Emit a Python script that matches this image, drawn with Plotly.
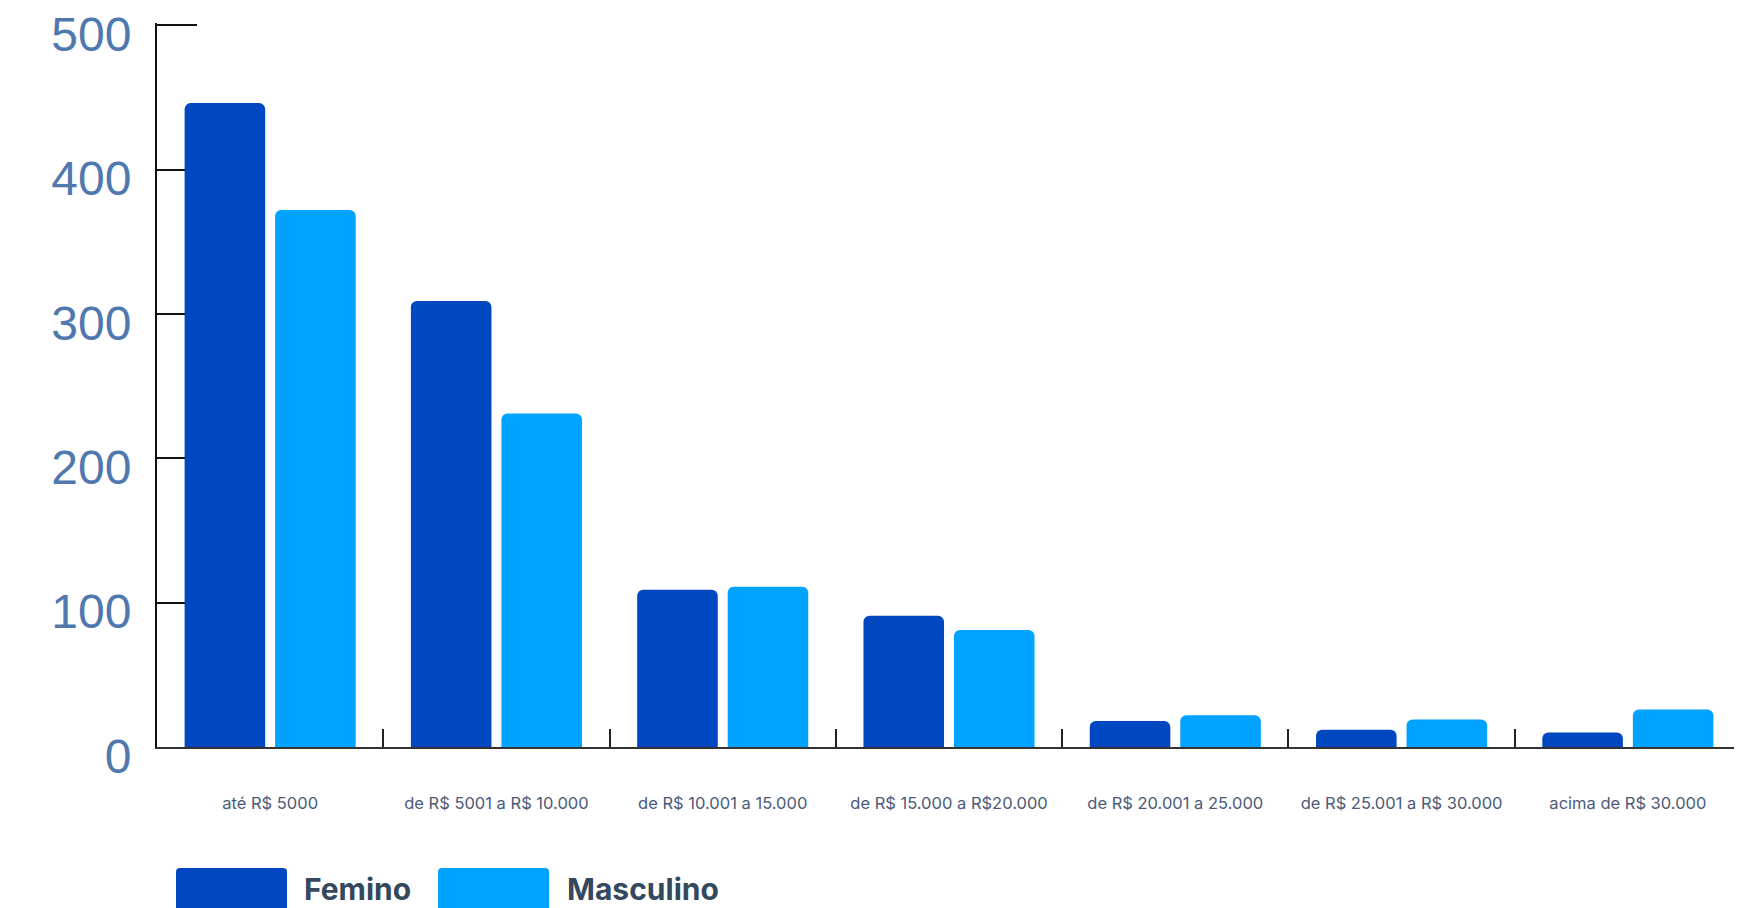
import plotly.graph_objects as go

categories = ["até R$ 5000", "de R$ 5001 a R$ 10.000", "de R$ 10.001 a 15.000",
              "de R$ 15.000 a R$20.000", "de R$ 20.001 a 25.000",
              "de R$ 25.001 a R$ 30.000", "acima de R$ 30.000"]
femino = [446, 309, 109, 91, 18, 12, 10]
masculino = [372, 231, 111, 81, 22, 19, 26]
y_ticks = [0, 100, 200, 300, 400, 500]

series = [("Femino", femino, "#0047c0"), ("Masculino", masculino, "#00a3ff")]

# page body has an 8px margin, so the figure is offset by 8px
OFF = 8
W, H = 1742, 908
ML, MR, MT, MB = 157 - OFF, 1 + OFF, 23 - OFF, 161 + OFF
PW = W - ML - MR
PH = H - MT - MB

fig = go.Figure()
for name, vals, color in series:
    fig.add_trace(go.Bar(
        x=categories, y=vals, name=name,
        marker=dict(color=color, line=dict(width=0), cornerradius=6),
        showlegend=False))


def px2paper_x(px):
    return (px - OFF - ML) / PW


def px2paper_y(py):
    return (H - MB - (py - OFF)) / PH


def rounded_rect(x0, y0, x1, y1, r):
    X = lambda v: px2paper_x(v)
    Y = lambda v: px2paper_y(v)
    return (f"M {X(x0 + r)} {Y(y0)} L {X(x1 - r)} {Y(y0)} Q {X(x1)} {Y(y0)} {X(x1)} {Y(y0 + r)} "
            f"L {X(x1)} {Y(y1 - r)} Q {X(x1)} {Y(y1)} {X(x1 - r)} {Y(y1)} "
            f"L {X(x0 + r)} {Y(y1)} Q {X(x0)} {Y(y1)} {X(x0)} {Y(y1 - r)} "
            f"L {X(x0)} {Y(y0 + r)} Q {X(x0)} {Y(y0)} {X(x0 + r)} {Y(y0)} Z")


legend_items = [(176, 287, 302), (438, 549, 565)]
shapes = []
annotations = []
for (sx0, sx1, tx), (name, vals, color) in zip(legend_items, series):
    shapes.append(dict(type="path", xref="paper", yref="paper",
                       path=rounded_rect(sx0, 868, sx1, 912, 4),
                       fillcolor=color, line=dict(width=0), layer="above"))
    annotations.append(dict(x=px2paper_x(tx), y=px2paper_y(889), xref="paper", yref="paper",
                            text=f"<b>{name}</b>", showarrow=False, xanchor="left", yanchor="middle",
                            font=dict(family="Inter", size=30, color="#34495e")))

fig.update_layout(
    width=W, height=H,
    margin=dict(l=ML, r=MR, t=MT, b=MB, pad=0),
    paper_bgcolor="white", plot_bgcolor="white",
    barmode="group", bargap=0.2, bargroupgap=0.11,
    showlegend=False,
    shapes=shapes, annotations=annotations,
    xaxis=dict(
        type="category", range=[-0.5, len(categories) - 0.5], automargin=False,
        showline=True, linecolor="#333333", linewidth=2,
        ticks="inside", tickson="boundaries", ticklen=18, tickwidth=2, tickcolor="#222222",
        showgrid=False, zeroline=False,
        tickfont=dict(family="Inter", size=16.5, color="#4a5a78"),
        ticklabelstandoff=40,
    ),
    yaxis=dict(
        range=[0, 501.5], tickvals=y_ticks, ticktext=[str(v) for v in y_ticks], automargin=False,
        showline=True, linecolor="#111111", linewidth=2,
        ticks="inside", ticklen=40, tickwidth=2, tickcolor="#111111",
        showgrid=False, zeroline=False, layer="below traces",
        tickfont=dict(family="Liberation Sans", size=48, color="#4f78ae"),
        ticklabelstandoff=14, ticklabelshift=9, ticklabeloverflow="allow",
    ),
)

fig.write_html("out.html")
